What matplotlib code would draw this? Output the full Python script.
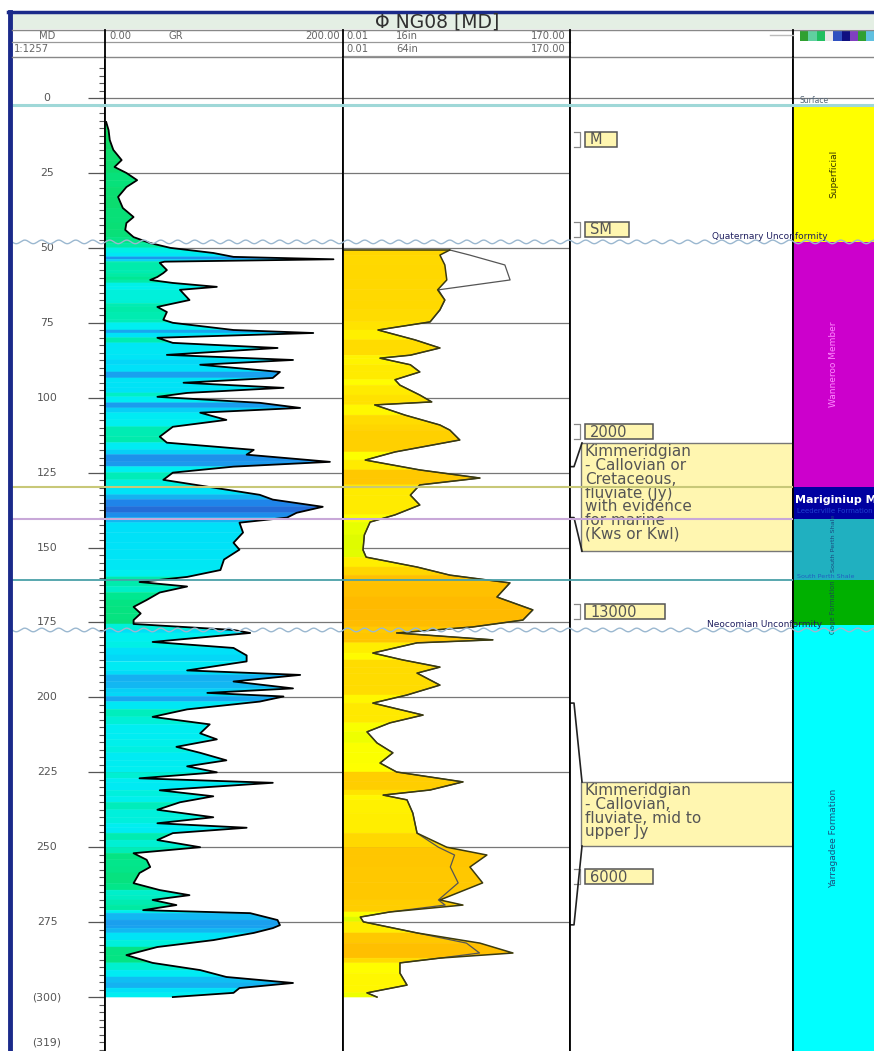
import numpy as np
import matplotlib.pyplot as plt
from matplotlib.collections import PolyCollection
from matplotlib.colors import LinearSegmentedColormap, Normalize
from matplotlib.patches import Rectangle

W, H = 874, 1051
TOP = 57
D_TOP, D_BOT = -13.7, 318.0

# ---- gamma ray (API) ----
gr_depth = [8, 10.7, 14, 17.3, 20.7, 23, 25, 27.4, 29.7, 33, 36.7, 39.7, 41.7, 44, 46.4, 48.4,
            50, 51.7, 53, 53.8, 54.6, 55, 57.4, 58.4, 59.7, 60.7, 61.7, 63, 64, 67.4, 68.5, 69.7,
            71.4, 74, 75, 77.4, 78.4, 80, 81.7, 83.4, 85.7, 87.4, 89, 91.4, 93.4, 95, 96.7, 98.4,
            99.7, 101.7, 103.4, 105, 107.4, 109.7, 113, 115, 117.4, 119, 121.4, 123, 125, 127.4,
            130, 132.4, 134, 136.4, 138.4, 140, 141.7, 145, 148.4, 150.7, 154, 157.5, 159.8, 161.5,
            163, 165, 167.5, 169.8, 172, 174.2, 175.5, 177.5, 178.5, 181.5, 183.5, 186, 188, 191,
            192.5, 194.7, 197, 198.5, 199.7, 201.4, 204, 206.5, 209, 212, 214, 216.5, 218.5, 221,
            223, 225, 227, 228.5, 231, 233, 235, 237.5, 240, 242, 243.5, 245.3, 247.6, 250, 252,
            254.2, 256.6, 258.6, 262, 264.3, 266, 267.6, 269.3, 271, 272, 274.3, 276, 277, 278.6,
            281, 283.3, 286, 288.6, 291, 293.3, 295.3, 297, 298.6, 300]
gr_api = [1, 3, 4, 7, 14, 8, 18, 27, 18, 11, 15, 24, 18, 17, 24, 38,
          55, 91, 108, 192, 50, 46, 52, 49, 44, 38, 57, 94, 63, 71, 58, 44,
          52, 49, 57, 108, 175, 44, 57, 145, 52, 158, 80, 147, 141, 66, 150, 69,
          44, 130, 164, 80, 102, 57, 46, 52, 125, 119, 189, 108, 57, 49,
          91, 130, 141, 183, 161, 153, 113, 116, 108, 113, 100, 97, 69, 29,
          69, 46, 35, 24, 30, 24, 24, 108, 122, 40, 108, 119, 119, 69,
          164, 108, 158, 86, 150, 130, 69, 40, 88, 80, 94, 60, 80, 102,
          69, 94, 29, 141, 46, 91, 63, 44, 91, 44, 119, 57, 44, 80, 24,
          35, 38, 29, 24, 46, 71, 40, 60, 32, 122, 145, 147, 141, 125,
          91, 44, 18, 40, 80, 102, 158, 113, 108, 57]

# ---- resistivity (ohm.m), 16in and 64in ----
res_depth = [50.7, 52.4, 55.7, 60.7, 64, 67.4, 70.7, 74.7, 77.4, 80.7, 83.4, 85.8, 86.8, 89, 91.4,
             94, 95.8, 99.1, 101.4, 102.4, 105.8, 109.1, 110.8, 114.1, 118.1, 120.8, 124.1, 126.8,
             129.1, 132.5, 135.8, 139.1, 141.5, 145.8, 150.8, 153.2, 156.5, 159.2, 161.8, 166.5,
             170.8, 174.2, 176.5, 178.5, 180.8, 181.8, 185.2, 187.5, 189.9, 191.9, 195.9, 199.2,
             201.9, 205.9, 208.5, 211.5, 215.2, 218.5, 221.9, 224.9, 228.2, 230.9, 232.6, 234.2,
             238.6, 245.3, 250, 252.6, 256.6, 261.9, 267.6, 269.3, 271.6, 273.3, 274.9, 278.6,
             282, 285.3, 287, 288.6, 292, 296, 298.6, 300]
res_16in = [0.98, 0.64, 0.79, 0.86, 0.58, 0.79, 0.64, 0.42, 0.045, 0.22, 0.64, 0.18, 0.049, 0.18, 0.27,
            0.093, 0.115, 0.27, 0.45, 0.039, 0.143, 0.64, 0.98, 1.5, 0.093, 0.026, 0.27, 3.56,
            0.27, 0.18, 0.27, 0.093, 0.032, 0.025, 0.0236, 0.027, 0.24, 0.98, 12.9, 7.4,
            34.5, 22.5, 2.6, 0.10, 6.2, 0.24, 0.036, 0.13, 0.64, 0.24, 0.64, 0.156,
            0.036, 0.31, 0.075, 0.028, 0.043, 0.085, 0.049, 0.10, 1.72, 0.42, 0.056, 0.156,
            0.20, 0.24, 0.86, 4.8, 2.32, 4.0, 0.64, 1.72, 0.075, 0.021, 0.024, 0.24,
            3.56, 14.7, 0.64, 0.115, 0.115, 0.156, 0.028, 0.043]
res_64in = [0.98, 2.3, 10.4, 13.0, 0.6, 0.79, 0.64, 0.42, 0.045, 0.22, 0.64, 0.18, 0.049, 0.18, 0.27,
            0.093, 0.115, 0.27, 0.45, 0.039, 0.143, 0.64, 0.98, 1.5, 0.093, 0.026, 0.27, 3.56,
            0.27, 0.18, 0.27, 0.093, 0.032, 0.025, 0.0236, 0.027, 0.24, 0.98, 12.9, 7.4,
            34.5, 22.5, 2.6, 0.10, 6.2, 0.24, 0.036, 0.13, 0.64, 0.24, 0.64, 0.156,
            0.036, 0.31, 0.075, 0.028, 0.043, 0.085, 0.049, 0.10, 1.72, 0.42, 0.056, 0.156,
            0.20, 0.24, 0.6, 1.2, 1.0, 1.4, 0.6, 0.8, 0.075, 0.021, 0.024, 0.24,
            2.0, 3.5, 0.64, 0.115, 0.115, 0.156, 0.028, 0.043]

# ---- formations ----
fm_names = ["Superficial", "Wanneroo Member", "Mariginiup Member", "South Perth Shale",
            "Gage Formation", "Yarragadee Formation"]
fm_tops = [2.5, 48.0, 129.8, 140.5, 160.8, 175.8]
fm_colors = ["#FFFF00", "#CC00CC", "#0000A0", "#20B0C0", "#00B000", "#00FFFF"]

unconf_names = ["Quaternary Unconformity", "Neocomian Unconformity"]
unconf_depths = [48.0, 177.5]

# ---- comments ----
tag_labels = ["M", "SM", "2000", "13000", "6000"]
tag_depths = [13.8, 43.9, 111.4, 171.5, 259.9]
comment_texts = ["Kimmeridgian\n- Callovian or\nCretaceous,\nfluviate (Jy)\nwith evidence\nfor marine\n(Kws or Kwl)",
                 "Kimmeridgian\n- Callovian,\nfluviate, mid to\nupper Jy"]
comment_box = [(115.1, 151.2), (228.2, 249.6)]
comment_span = [(123.0, 140.0), (201.9, 275.9)]

md_ticks = [0, 25, 50, 75, 100, 125, 150, 175, 200, 225, 250, 275, 300]
md_labels = ["0", "25", "50", "75", "100", "125", "150", "175", "200", "225", "250", "275", "(300)"]

fig = plt.figure(figsize=(W / 100, H / 100), dpi=100)


def px_axes(x0, x1, y0, y1, **kw):
    return fig.add_axes([x0 / W, 1 - y1 / H, (x1 - x0) / W, (y1 - y0) / H], **kw)


ax_md = px_axes(12, 105, TOP, H)
ax_gr = px_axes(105, 343, TOP, H, sharey=ax_md)
ax_res = px_axes(343, 570, TOP, H, sharey=ax_md)
ax_ann = px_axes(570, 793, TOP, H, sharey=ax_md)
ax_fm = px_axes(793, 874, TOP, H, sharey=ax_md)
ax_md.set_ylim(D_BOT, D_TOP)

for ax in (ax_md, ax_gr, ax_res, ax_ann, ax_fm):
    ax.tick_params(left=False, labelleft=False, bottom=False, labelbottom=False,
                   which="both")
    for s in ("top", "bottom"):
        ax.spines[s].set_visible(False)
    for s in ("left", "right"):
        ax.spines[s].set_color("black")
        ax.spines[s].set_linewidth(1.3)
        ax.spines[s].set_zorder(10)
ax_md.spines["left"].set_visible(False)
ax_fm.spines["right"].set_visible(False)

# depth track
ax_md.set_xlim(12, 105)
minor = np.arange(-10, 318, 2.5)
ax_md.hlines(minor, 99, 105, color="#555555", lw=0.8)
ax_md.hlines(md_ticks, 88, 105, color="#555555", lw=0.9)
for d, lab in zip(md_ticks, md_labels):
    ax_md.text(47, d, lab, ha="center", va="center", fontsize=7.8, color="#555555")
ax_md.text(47, 315.3, "(319)", ha="center", va="center", fontsize=7.8, color="#555555",
           clip_on=True)

# gamma ray track, fill shaded by the curve value
gr_cmap = LinearSegmentedColormap.from_list("gr", [
    (0.0, "#10D860"), (0.2, "#00E890"), (0.3, "#00F0D0"), (0.4, "#00F0F0"),
    (0.575, "#00E0F8"), (0.7, "#18A8F0"), (0.825, "#2080E8"), (0.95, "#3040B0"),
    (1.0, "#3030A0")])
gr_norm = Normalize(0, 200)
ax_gr.set_xlim(0, 200)
ax_gr.hlines(md_ticks[:-1], 0, 200, color="#777777", lw=0.9, zorder=1)
verts, cols = [], []
for i in range(len(gr_depth) - 1):
    d0, d1 = gr_depth[i], gr_depth[i + 1]
    g0, g1 = gr_api[i], gr_api[i + 1]
    verts.append([(0, d0), (g0, d0), (g1, d1), (0, d1)])
    cols.append(gr_cmap(gr_norm(0.5 * (g0 + g1))))
ax_gr.add_collection(PolyCollection(verts, facecolors=cols, edgecolors=cols, lw=0.3, zorder=2))
ax_gr.plot(gr_api, gr_depth, color="black", lw=1.3, zorder=3)

# resistivity track (log scale), fill under the 16in curve
res_cmap = LinearSegmentedColormap.from_list("res", [
    (0.0, "#C0F000"), (0.12, "#E8FF00"), (0.24, "#FFFF00"), (0.4, "#FFE000"),
    (0.55, "#FFCC00"), (1.0, "#FFB000")])
res_norm = Normalize(-2, 2.2)
ax_res.set_xscale("log")
ax_res.set_xlim(0.01, 170)
ax_res.minorticks_off()
ax_res.hlines(md_ticks[:-1], 0.01, 170, color="#777777", lw=0.9, zorder=1)
verts, cols = [], []
for i in range(len(res_depth) - 1):
    d0, d1 = res_depth[i], res_depth[i + 1]
    r0, r1 = res_16in[i], res_16in[i + 1]
    verts.append([(0.01, d0), (r0, d0), (r1, d1), (0.01, d1)])
    cols.append(res_cmap(res_norm(np.log10(max(r0, r1)))))
ax_res.add_collection(PolyCollection(verts, facecolors=cols, edgecolors=cols, lw=0.3, zorder=2))
ax_res.plot(res_64in, res_depth, color="#555555", lw=0.9, zorder=3)
ax_res.plot(res_16in, res_depth, color="#3A3A10", lw=1.1, zorder=4)
ax_res.hlines([res_depth[0]], 0.01, res_16in[0], color="#3A3A10", lw=1.1, zorder=4)

# comments track
ax_ann.set_xlim(570, 793)
ax_ann.hlines([0], 570, 793, color="#777777", lw=0.9)
box_fc = "#FFF6B0"
for lab, d in zip(tag_labels, tag_depths):
    bw = 20 + 12 * len(lab)
    ax_ann.add_patch(Rectangle((585, d - 2.5), bw, 5.0, fc=box_fc, ec="#555555", lw=1.1,
                               zorder=2))
    ax_ann.text(590, d + 0.1, lab, ha="left", va="center", fontsize=10.5, color="#555555",
                zorder=3)
    ax_ann.plot([574, 580, 580, 574], [d - 2.5, d - 2.5, d + 2.5, d + 2.5],
                color="#888888", lw=0.9)
for txt, (b0, b1), (s0, s1) in zip(comment_texts, comment_box, comment_span):
    ax_ann.add_patch(Rectangle((581, b0), 220, b1 - b0, fc=box_fc, ec="#777777", lw=1.0,
                               zorder=2))
    ax_ann.text(585, b0 + 0.5, txt, ha="left", va="top", fontsize=11, color="#555555",
                linespacing=0.89, zorder=3, clip_on=True)
    ax_ann.plot([571, 574, 582], [s0, s0, b0], color="#222222", lw=1.2, zorder=4)
    ax_ann.plot([582, 574, 571], [b1, s1, s1], color="#222222", lw=1.2, zorder=4)

# formation column
ax_fm.set_xlim(0, 1)
fm_bases = fm_tops[1:] + [D_BOT]
ax_fm.bar(0.5, np.subtract(fm_bases, fm_tops), bottom=fm_tops, width=1.0,
          color=fm_colors, edgecolor="none", zorder=1)
ax_fm.hlines([0], 0, 1, color="#777777", lw=0.9)
ax_fm.text(0.08, 0.9, "Surface", fontsize=5.5, color="#556677", va="center", clip_on=True)
narrow = ["Liberation Sans Narrow", "DejaVu Sans"]
rot_style = [("#333300", 6.5, 0), ("#FF88FF", 6.5, 0), (None, 0, 0), ("#1A4A80", 4.6, -2),
             ("#1A4A50", 4.8, 1.5), ("#1A5080", 6.5, 0)]
for name, t, b, (c, fs, dy) in zip(fm_names, fm_tops, fm_bases, rot_style):
    if c is None:
        continue
    ax_fm.text(0.5, (t + b) / 2 + dy, name, rotation=90, ha="center", va="center",
               fontsize=fs, color=c, family=narrow, clip_on=True)
ax_fm.text(0.03, fm_tops[2] + 4.2, fm_names[2], fontsize=8, color="white",
           fontweight="bold", va="center", ha="left", clip_on=True)
ax_fm.text(0.05, fm_tops[2] + 8.0, "Leederville Formation", fontsize=5, color="#2040D0",
           va="center", ha="left", clip_on=True)
ax_fm.text(0.05, fm_tops[4] - 1.0, "South Perth Shale", fontsize=4.6, color="#2060C0",
           va="center", ha="left", clip_on=True)

# lines that run across all tracks
ax_ov = px_axes(12, 874, TOP, H, sharey=ax_md)
ax_ov.set_xlim(12, 874)
ax_ov.axis("off")
ax_ov.hlines([2.3], 12, 874, color="#9FD8D8", lw=2.2)
ax_ov.hlines([fm_tops[2]], 12, 793, color="#C8C878", lw=1.5)
ax_ov.hlines([fm_tops[3]], 12, 793, color="#C8A8D8", lw=1.5)
ax_ov.hlines([fm_tops[4]], 12, 793, color="#4AA0A8", lw=1.3)
xs = np.linspace(12, 874, 900)
for name, d, x0 in zip(unconf_names, unconf_depths, [712, 707]):
    ax_ov.plot(xs, d + 0.6 * np.sin(2 * np.pi * (xs - 12) / 17.0), color="#9BB8D0", lw=1.0)
    ax_ov.text(x0, d - 0.4, name, fontsize=6.5, color="#202060", ha="left", va="bottom",
               clip_on=True)

# header and frame
ax_hd = px_axes(0, 874, 0, H)
ax_hd.set_xlim(0, 874)
ax_hd.set_ylim(H, 0)
ax_hd.axis("off")
ax_hd.add_patch(Rectangle((12, 13), 862, 16, fc="#E4EFE4", ec="none"))
ax_hd.text(437, 21.5, "\u03a6 NG08 [MD]", ha="center", va="center", fontsize=13.5,
           color="#303030")
ax_hd.plot([8, 874], [12, 12], color="#1A2A8A", lw=2.5)
ax_hd.plot([10, 10], [12, H], color="#1A2A8A", lw=3.5)
ax_hd.plot([12, 874], [29.5, 29.5], color="#888888", lw=1.0)
ax_hd.plot([12, 570], [41.5, 41.5], color="#999999", lw=0.9)
ax_hd.plot([343, 570], [55.5, 55.5], color="#999999", lw=0.9)
ax_hd.plot([12, 874], [57, 57], color="#888888", lw=1.0)
for x in (105, 343, 570, 793):
    ax_hd.plot([x, x], [29.5, 57], color="black", lw=1.3)
hc = "#666666"
hs = 7.2
ax_hd.text(47, 36, "MD", ha="center", va="center", fontsize=hs, color=hc)
ax_hd.text(14, 48.5, "1:1257", ha="left", va="center", fontsize=hs, color=hc)
ax_hd.text(109, 36, "0.00", ha="left", va="center", fontsize=hs, color=hc)
ax_hd.text(176, 36, "GR", ha="center", va="center", fontsize=hs, color=hc)
ax_hd.text(340, 36, "200.00", ha="right", va="center", fontsize=hs, color=hc)
for yy, curve in ((36, "16in"), (48.5, "64in")):
    ax_hd.text(346, yy, "0.01", ha="left", va="center", fontsize=hs, color=hc)
    ax_hd.text(407, yy, curve, ha="center", va="center", fontsize=hs, color=hc)
    ax_hd.text(566, yy, "170.00", ha="right", va="center", fontsize=hs, color=hc)
strip = ["#30A030", "#60D0A0", "#20C060", "#E8E8E8", "#3050C0", "#101080", "#8040C0",
         "#30A030", "#60C0E0"]
for i, c in enumerate(strip):
    ax_hd.add_patch(Rectangle((800 + 8.3 * i, 30.5), 8.3, 10, fc=c, ec="none"))
ax_hd.plot([770, 793], [35, 35], color="#BBBBBB", lw=1.0)

fig.savefig("out.png", dpi=100)
